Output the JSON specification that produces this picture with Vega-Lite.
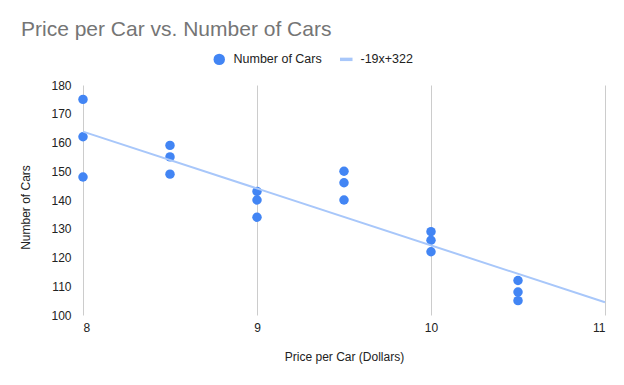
{
  "$schema": "https://vega.github.io/schema/vega-lite/v6.json",
  "width": 522,
  "height": 230,
  "autosize": {"type": "none"},
  "padding": {"left": 83, "top": 85, "right": 19, "bottom": 70},
  "background": "#ffffff",
  "config": {
    "view": {"stroke": null},
    "font": "Liberation Sans",
    "axis": {"labelFont": "Liberation Sans", "titleFont": "Liberation Sans", "labelColor": "#222222", "titleColor": "#222222", "labelFontSize": 12, "titleFontSize": 12, "titleFontWeight": "normal"}
  },
  "title": {
    "text": "Price per Car vs. Number of Cars",
    "anchor": "start",
    "frame": "group",
    "dx": -62,
    "offset": -4,
    "baseline": "alphabetic",
    "font": "Liberation Sans",
    "fontSize": 21,
    "fontWeight": "normal",
    "color": "#757575"
  },
  "data": {
    "values": [
      {"price": 8, "cars": 175},
      {"price": 8, "cars": 162},
      {"price": 8, "cars": 148},
      {"price": 8.5, "cars": 159},
      {"price": 8.5, "cars": 155},
      {"price": 8.5, "cars": 149},
      {"price": 9, "cars": 143},
      {"price": 9, "cars": 140},
      {"price": 9, "cars": 134},
      {"price": 9.5, "cars": 150},
      {"price": 9.5, "cars": 146},
      {"price": 9.5, "cars": 140},
      {"price": 10, "cars": 129},
      {"price": 10, "cars": 126},
      {"price": 10, "cars": 122},
      {"price": 10.5, "cars": 112},
      {"price": 10.5, "cars": 108},
      {"price": 10.5, "cars": 105}
    ]
  },
  "encoding": {
    "x": {
      "field": "price", "type": "quantitative",
      "scale": {"domain": [8, 11], "nice": false, "zero": false},
      "axis": {
        "title": "Price per Car (Dollars)",
        "values": [8, 9, 10, 11],
        "grid": true, "gridColor": "#cccccc", "gridWidth": 1,
        "domain": false, "ticks": false, "labelPadding": 7,
        "titlePadding": 18
      }
    },
    "y": {
      "field": "cars", "type": "quantitative",
      "scale": {"domain": [100, 180], "nice": false, "zero": false},
      "axis": {
        "title": "Number of Cars",
        "values": [100, 110, 120, 130, 140, 150, 160, 170, 180],
        "grid": false, "domain": false, "ticks": false, "labelPadding": 12,
        "titleX": -51, "titleY": 122
      }
    }
  },
  "layer": [
    {
      "mark": {"type": "point", "filled": true, "opacity": 1, "size": 90},
      "encoding": {
        "color": {
          "datum": "Number of Cars",
          "scale": {"domain": ["Number of Cars", "-19x+322"], "range": ["#4285f4", "#a8c7fa"]},
          "legend": {
            "title": null, "orient": "none", "direction": "horizontal",
            "legendX": 130, "legendY": -32,
            "labelFont": "Liberation Sans", "labelFontSize": 12.5, "labelColor": "#222222",
            "labelOffset": 8,
            "symbolSize": 130, "symbolOpacity": 1, "columnPadding": 17, "symbolStrokeWidth": 0
          }
        },
        "shape": {
          "datum": "Number of Cars",
          "scale": {"domain": ["Number of Cars", "-19x+322"], "range": ["circle", "M-1.1,-0.3H1.1V0.3H-1.1Z"]},
          "legend": {
            "title": null, "orient": "none", "direction": "horizontal",
            "legendX": 130, "legendY": -32,
            "labelFont": "Liberation Sans", "labelFontSize": 12.5, "labelColor": "#222222",
            "labelOffset": 8,
            "symbolSize": 130, "symbolOpacity": 1, "columnPadding": 17, "symbolStrokeWidth": 0
          }
        }
      }
    },
    {
      "transform": [{"regression": "cars", "on": "price", "extent": [8, 11]}],
      "mark": {"type": "line", "strokeWidth": 2},
      "encoding": {
        "color": {"datum": "-19x+322"}
      }
    }
  ]
}
